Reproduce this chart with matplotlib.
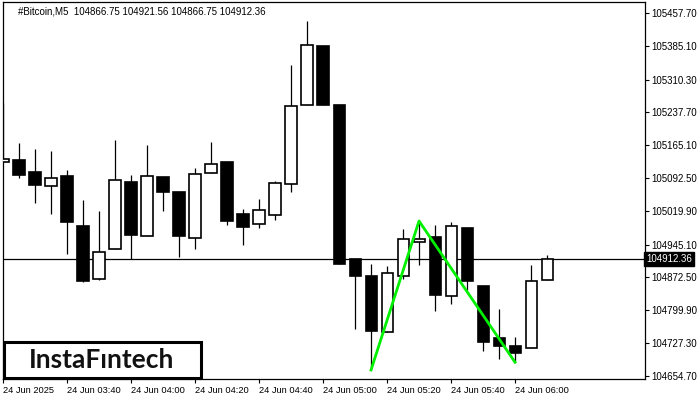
import matplotlib
matplotlib.use("Agg")
import matplotlib.pyplot as plt
from matplotlib.patches import Rectangle
import numpy as np

# candle data, 5 min bars starting 24 Jun 03:20
opens = [105127.88, 105132.31, 105105.73, 105074.06, 105096.87, 104986.12, 104868.06, 104934.51,
         105083.58, 104963.31, 105094.65, 105061.43, 104958.88, 105102.85, 105127.88, 105012.70,
         104991.21, 105011.15, 105078.49, 105254.80, 105384.82, 105254.13, 104912.36, 104875.37,
         104750.66, 104874.70, 104950.02, 104961.75, 104830.40, 104981.69, 104853.22, 104738.04,
         104720.32, 104715.22, 104866.75]
highs = [105258.56, 105169.96, 105156.67, 105152.24, 105110.16, 105043.71, 105019.34, 105176.61,
         105099.08, 105165.53, 105094.65, 105061.43, 105114.59, 105172.18, 105127.88, 105023.77,
         105045.92, 105085.79, 105342.73, 105440.19, 105384.82, 105254.13, 104912.36, 104901.95,
         104897.52, 104979.47, 104997.19, 104988.33, 104994.32, 104981.69, 104853.22, 104802.27,
         104740.25, 104899.73, 104921.56]
lows = [105127.88, 105092.44, 105037.06, 105012.70, 104924.10, 104862.08, 104865.84, 104934.51,
        104912.36, 104963.31, 105020.01, 104918.12, 104935.84, 105102.85, 104989.00, 104944.03,
        104981.69, 104999.41, 105061.43, 105254.80, 105254.13, 104901.95, 104758.64, 104667.16,
        104750.66, 104869.39, 104900.40, 104798.51, 104814.01, 104844.36, 104709.91, 104692.19,
        104684.21, 104715.22, 104866.75]
closes = [105134.52, 105099.08, 105076.93, 105091.78, 104995.64, 104864.96, 104927.87, 105087.35,
          104966.85, 105096.21, 105062.09, 104964.63, 105100.64, 105122.79, 104997.86, 104984.57,
          105020.90, 105081.36, 105251.26, 105387.03, 105254.13, 104901.95, 104876.03, 104754.21,
          104881.35, 104956.66, 104956.66, 104833.95, 104985.46, 104864.96, 104729.84, 104720.98,
          104705.48, 104864.29, 104912.36]

# pattern line (bar index, price)
pattern_x = [23, 26, 32]
pattern_y = [104667.16, 104997.19, 104684.21]

last_price = 104912.36
title = "#Bitcoin,M5  104866.75 104921.56 104866.75 104912.36"

price_ticks = [105457.70, 105385.10, 105310.30, 105237.70, 105165.10, 105092.50,
               105019.90, 104945.10, 104872.50, 104799.90, 104727.30, 104654.70]
time_pos = [0, 4, 8, 12, 16, 20, 24, 28, 32]
time_labels = ["24 Jun 2025", "24 Jun 03:40", "24 Jun 04:00", "24 Jun 04:20", "24 Jun 04:40",
               "24 Jun 05:00", "24 Jun 05:20", "24 Jun 05:40", "24 Jun 06:00"]

plt.rcParams['font.family'] = ['Liberation Sans', 'DejaVu Sans']

fig = plt.figure(figsize=(7, 4), dpi=100)
ax = fig.add_axes([2.5 / 700, 21 / 400, 642 / 700, 377 / 400])

x = np.arange(len(opens))
o = np.array(opens)
c = np.array(closes)
up = c >= o

ax.vlines(x, lows, highs, color='black', linewidth=0.9, zorder=2)
ax.bar(x, np.abs(c - o), bottom=np.minimum(o, c), width=0.69,
       color=np.where(up, 'white', 'black'), edgecolor='black', linewidth=1.2, zorder=3)

ax.axhline(last_price, color='black', linewidth=0.9, zorder=1)
ax.plot(pattern_x, pattern_y, color='#00f000', linewidth=2, zorder=4)

ax.set_xlim(-0.03, 40.09)
ax.set_ylim(104647.22, 105482.28)

ax.yaxis.tick_right()
ax.set_yticks(price_ticks)
ax.set_yticklabels([f"{p:.2f}" for p in price_ticks])
ax.set_xticks(time_pos)
ax.set_xticklabels(time_labels, ha='left')
ax.tick_params(axis='y', length=3, width=0.8, pad=2, labelsize=7)
ax.tick_params(axis='x', length=3, width=0.8, pad=2, labelsize=6.7)
for sp in ax.spines.values():
    sp.set_linewidth(0.9)

ax.text(1.003, last_price, f"{last_price:.2f}", transform=ax.get_yaxis_transform(),
        ha='left', va='center', color='white', fontsize=7,
        bbox=dict(boxstyle='square,pad=0.2', facecolor='black', edgecolor='black'))

fig.text(18 / 700, 1 - 11 / 400, title, fontsize=7, va='center', ha='left')

# logo
fig.patches.append(Rectangle((3.5 / 700, 1 - 378 / 400), 197 / 700, 36.5 / 400,
                             transform=fig.transFigure, facecolor='white',
                             edgecolor='black', linewidth=2.2, zorder=5))
fig.text(101.7 / 700, 1 - 359.5 / 400, "InstaF\u0131ntech", fontsize=19, family='Lato',
         fontweight='bold', ha='center', va='center', color='#111111', zorder=6)

fig.savefig("out.png", dpi=100)
